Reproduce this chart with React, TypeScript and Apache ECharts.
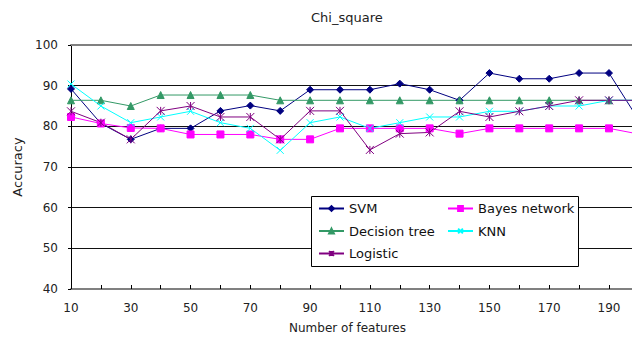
import React, { useEffect, useRef } from "react";
import * as echarts from "echarts";

const features = [10, 20, 30, 40, 50, 60, 70, 80, 90, 100, 110, 120, 130, 140, 150, 160, 170, 180, 190, 200];
const svm = [89.2, 80.7, 76.8, 79.5, 79.5, 83.8, 85.1, 83.8, 89.0, 89.0, 89.0, 90.5, 89.0, 86.4, 93.1, 91.7, 91.7, 93.1, 93.1, 81.5];
const bayes = [82.3, 80.7, 79.6, 79.5, 78.0, 78.0, 78.0, 76.8, 76.8, 79.5, 79.5, 79.5, 79.5, 78.2, 79.5, 79.5, 79.5, 79.5, 79.5, 78.1];
const decisionTree = [86.4, 86.4, 85.0, 87.7, 87.7, 87.7, 87.7, 86.4, 86.4, 86.4, 86.4, 86.4, 86.4, 86.4, 86.4, 86.4, 86.4, 86.4, 86.4, 86.4];
const knn = [90.4, 85.0, 80.9, 82.3, 83.7, 80.9, 79.5, 74.1, 80.9, 82.3, 79.5, 80.9, 82.3, 82.3, 83.7, 83.7, 85.0, 85.0, 86.4, 86.4];
const logistic = [83.7, 80.9, 76.8, 83.8, 85.0, 82.3, 82.3, 76.8, 83.8, 83.8, 74.2, 78.2, 78.5, 83.7, 82.3, 83.7, 85.0, 86.4, 86.4, 86.4];
const xLabelValues = [10, 30, 50, 70, 90, 110, 130, 150, 170, 190];

const FONT = "DejaVu Sans";

export default function App() {
  const ref = useRef<HTMLDivElement>(null);
  useEffect(() => {
    if (!ref.current) return;
    const chart = echarts.init(ref.current, null, { renderer: "svg" });
    const mk = (name: string, values: number[], color: string, symbol: string, size: number) => ({
      name,
      type: "line",
      data: features.map((f, i) => [f, values[i]]),
      symbol,
      symbolSize: size,
      showAllSymbol: true,
      clip: true,
      lineStyle: { color, width: 1 },
      itemStyle: { color, borderColor: color, borderWidth: 1 },
      z: 2,
    });
    const legendBase = {
      orient: "vertical",
      top: 202,
      itemWidth: 25,
      itemHeight: 6,
      itemGap: 9.5,
      padding: 0,
      textStyle: { fontFamily: FONT, fontSize: 13, color: "#111" },
    };
    chart.setOption({
      animation: false,
      backgroundColor: "#fff",
      title: {
        text: "Chi_square",
        left: 306,
        top: 6,
        textStyle: { fontFamily: FONT, fontSize: 13, fontWeight: "normal", color: "#222" },
      },
      legend: [
        { ...legendBase, data: ["SVM", "Decision tree", "Logistic"], left: 318 },
        { ...legendBase, data: ["Bayes network", "KNN"], left: 447 },
      ],
      graphic: [
        {
          type: "rect",
          z: 3,
          shape: { x: 311.5, y: 196.5, width: 267, height: 70 },
          style: { fill: "#fff", stroke: "#000", lineWidth: 1 },
        },
      ],
      grid: { left: 71, right: 0, top: 45, bottom: 48, containLabel: false },
      xAxis: [
        {
          type: "value",
          min: 10,
          max: 197.7,
          interval: 10,
          name: "Number of features",
          nameLocation: "middle",
          nameGap: 33,
          nameTextStyle: { fontFamily: FONT, fontSize: 12, color: "#222", padding: [0, 8, 0, 0] },
          axisLine: { onZero: false, lineStyle: { color: "#808080", width: 2 } },
          axisTick: { show: true, inside: true, length: 4, lineStyle: { color: "#000", width: 1 } },
          axisLabel: {
            margin: 13,
            showMaxLabel: false,
            fontFamily: FONT,
            fontSize: 12,
            color: "#222",
            formatter: (v: number) => (xLabelValues.includes(v) ? String(v) : ""),
          },
          splitLine: { show: false },
        },
        {
          type: "value",
          min: 10,
          max: 197.7,
          position: "top",
          axisLine: { onZero: false, lineStyle: { color: "#808080", width: 2 } },
          axisTick: { show: false },
          axisLabel: { show: false },
          splitLine: { show: false },
        },
      ],
      yAxis: {
        type: "value",
        min: 40,
        max: 100,
        interval: 10,
        name: "Accuracy",
        nameLocation: "middle",
        nameGap: 41,
        nameTextStyle: { fontFamily: FONT, fontSize: 13, color: "#222" },
        axisLine: { show: true, onZero: false, lineStyle: { color: "#000", width: 1 } },
        axisTick: { show: true, length: 3, lineStyle: { color: "#000" } },
        axisLabel: { margin: 13, fontFamily: FONT, fontSize: 12, color: "#222" },
        splitLine: { show: true, lineStyle: { color: "#111", width: 1 } },
      },
      series: [
        mk("SVM", svm, "#000080", "diamond", 7),
        mk("Bayes network", bayes, "#FF00FF", "rect", 7),
        mk("Decision tree", decisionTree, "#339966", "triangle", 7),
        mk("KNN", knn, "#00FFFF", "path://M0,0L10,10M10,0L0,10", 7),
        mk("Logistic", logistic, "#800080", "path://M0,0L10,10M10,0L0,10M5,0L5,10", 8),
      ],
    });
    return () => chart.dispose();
  }, []);
  return <div ref={ref} style={{ position: "absolute", left: 0, top: 0, width: 632, height: 339 }} />;
}
